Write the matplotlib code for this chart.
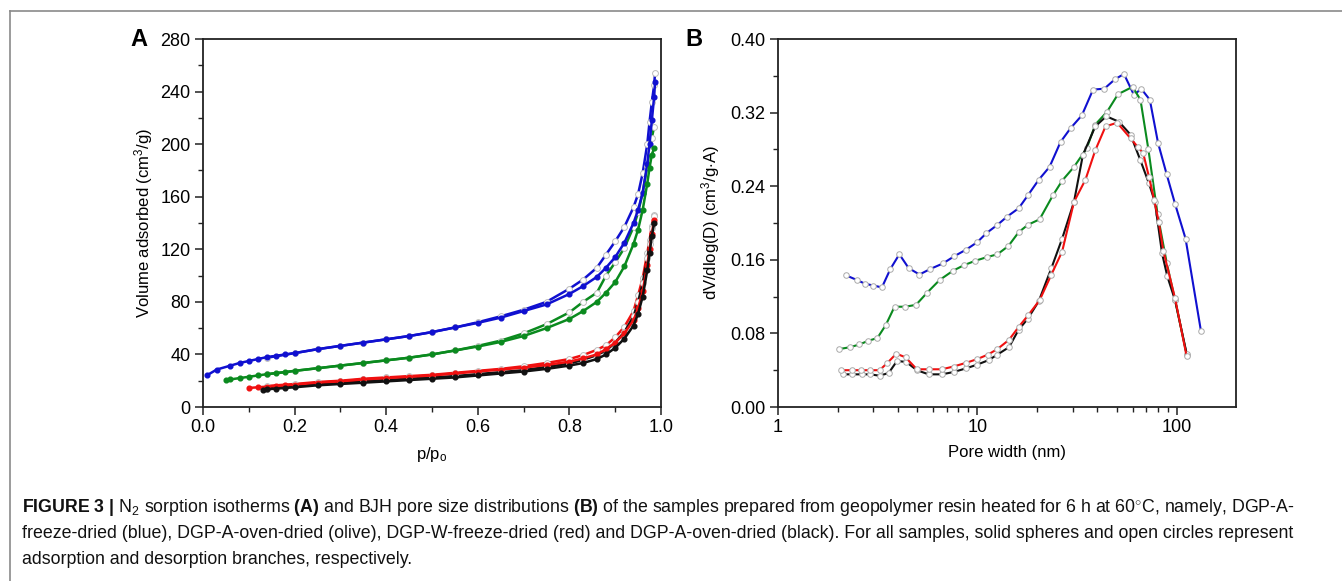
import matplotlib
matplotlib.use("Agg")
import matplotlib.pyplot as plt
from matplotlib.lines import Line2D
from matplotlib.ticker import MultipleLocator, LogLocator, NullFormatter, FixedLocator

plt.rcParams['font.family'] = ['Liberation Sans', 'DejaVu Sans']
plt.rcParams['mathtext.fontset'] = 'custom'
plt.rcParams['mathtext.rm'] = 'Liberation Sans'
plt.rcParams['mathtext.it'] = 'Liberation Sans:italic'
plt.rcParams['mathtext.bf'] = 'Liberation Sans:bold'

# ---------- panel A : isotherms ----------
blue_ads_p = [0.008, 0.03, 0.06, 0.08, 0.10, 0.12, 0.14, 0.16, 0.18, 0.20, 0.25, 0.30, 0.35, 0.40, 0.45, 0.50,
              0.55, 0.60, 0.65, 0.70, 0.75, 0.80, 0.83, 0.86, 0.88, 0.90, 0.92, 0.94, 0.95, 0.96, 0.97, 0.975,
              0.98, 0.985, 0.987]
blue_ads_v = [24, 28.5, 31.5, 33.5, 35, 36.5, 38, 39, 40, 41, 44, 46.5, 49, 51.5, 54, 57,
              60.5, 64, 68, 73, 78, 86, 92, 99, 106, 114, 125, 140, 150, 163, 185, 200,
              218, 236, 247]
blue_des_p = [0.987, 0.985, 0.98, 0.975, 0.97, 0.96, 0.95, 0.94, 0.92, 0.90, 0.88, 0.86, 0.83, 0.80, 0.75,
              0.70, 0.65, 0.60, 0.55, 0.50, 0.45, 0.40, 0.35, 0.30, 0.25, 0.20, 0.14]
blue_des_v = [254, 245, 232, 217, 200, 178, 162, 152, 137, 126, 116, 106, 97, 90, 80,
              74, 69, 64.5, 60.5, 57, 54, 51.5, 49, 46.5, 44, 41, 37.5]

green_ads_p = [0.05, 0.06, 0.08, 0.10, 0.12, 0.14, 0.16, 0.18, 0.20, 0.25, 0.30, 0.35, 0.40, 0.45, 0.50,
               0.55, 0.60, 0.65, 0.70, 0.75, 0.80, 0.83, 0.86, 0.88, 0.90, 0.92, 0.94, 0.95, 0.96, 0.97,
               0.975, 0.98, 0.985]
green_ads_v = [20.5, 21, 22, 23, 24, 25, 25.8, 26.5, 27.5, 29.5, 31.5, 33.5, 35.5, 37.5, 40,
               43, 46, 49.5, 54, 60, 67, 73, 80, 87, 95, 107, 124, 135, 150, 170,
               182, 192, 197]
green_des_p = [0.985, 0.98, 0.975, 0.97, 0.96, 0.95, 0.94, 0.92, 0.90, 0.88, 0.86, 0.83, 0.80, 0.75, 0.70,
               0.65, 0.60, 0.55, 0.50, 0.45, 0.40, 0.35, 0.30, 0.25, 0.20, 0.14]
green_des_v = [213, 205, 195, 183, 163, 148, 137, 121, 110, 100, 87, 80, 72, 63, 56,
               50.5, 46.5, 43, 40, 37.5, 35.5, 33.5, 31.5, 29.5, 27.5, 25]

red_ads_p = [0.10, 0.12, 0.14, 0.16, 0.18, 0.20, 0.25, 0.30, 0.35, 0.40, 0.45, 0.50, 0.55, 0.60, 0.65,
             0.70, 0.75, 0.80, 0.83, 0.86, 0.88, 0.90, 0.92, 0.94, 0.95, 0.96, 0.97, 0.975, 0.98, 0.985]
red_ads_v = [14.5, 15, 15.5, 16, 16.5, 17, 18.5, 19.5, 21, 22, 23, 24, 25.5, 27, 28.5,
             30, 32, 34.5, 37, 40, 44, 49, 56, 66, 75, 88, 108, 120, 132, 142]
red_des_p = [0.985, 0.98, 0.975, 0.97, 0.96, 0.95, 0.94, 0.92, 0.90, 0.88, 0.86, 0.83, 0.80, 0.75, 0.70,
             0.65, 0.60, 0.55, 0.50, 0.45, 0.40, 0.35, 0.30, 0.25, 0.20, 0.14]
red_des_v = [146, 138, 127, 117, 98, 85, 73, 61, 53, 47, 43.5, 39.5, 36.5, 33.5, 31,
             29, 27.5, 26, 24.5, 23.5, 22.5, 21.5, 20, 19, 17.5, 16]

black_ads_p = [0.13, 0.14, 0.16, 0.18, 0.20, 0.25, 0.30, 0.35, 0.40, 0.45, 0.50, 0.55, 0.60, 0.65, 0.70,
               0.75, 0.80, 0.83, 0.86, 0.88, 0.90, 0.92, 0.94, 0.95, 0.96, 0.97, 0.975, 0.98, 0.985]
black_ads_v = [13, 13.5, 14, 14.5, 15, 16.5, 17.5, 18.5, 19.5, 20.5, 21.5, 22.5, 24, 25.5, 27,
               29, 31.5, 33.5, 36.5, 40, 45, 52, 62, 71, 84, 104, 117, 130, 140]
black_des_p = [0.985, 0.98, 0.975, 0.97, 0.96, 0.95, 0.94, 0.92, 0.90, 0.88, 0.86, 0.83, 0.80, 0.75, 0.70,
               0.65, 0.60, 0.55, 0.50, 0.45, 0.40, 0.35, 0.30, 0.25, 0.20, 0.14]
black_des_v = [145, 136, 124, 113, 94, 80, 69, 57, 49, 43, 39.5, 36, 33, 30.5, 28,
               26.5, 25, 23.5, 22.5, 21.5, 20.5, 19.5, 18.5, 17.5, 16, 14]

# ---------- panel B : BJH pore size distributions ----------
blue_w = [2.20, 2.49, 2.73, 3.01, 3.32, 3.66, 4.06, 4.52, 5.12, 5.8, 6.71, 7.67, 8.77, 9.96, 11.1, 12.6, 14.1,
          16.1, 17.9, 20.3, 23.0, 26.1, 29.3, 33.4, 38.0, 43.3, 48.8, 54.3, 61.0, 66.2, 73.2, 80.5, 88.9,
          97.9, 110.6, 132]
blue_d = [0.143, 0.138, 0.134, 0.132, 0.130, 0.150, 0.166, 0.151, 0.144, 0.150, 0.156, 0.164, 0.171, 0.179,
          0.189, 0.198, 0.207, 0.216, 0.230, 0.247, 0.261, 0.288, 0.303, 0.317, 0.345, 0.346, 0.356, 0.362,
          0.339, 0.346, 0.334, 0.287, 0.253, 0.221, 0.183, 0.083]

green_w = [2.03, 2.30, 2.56, 2.84, 3.15, 3.47, 3.84, 4.34, 4.92, 5.58, 6.46, 7.53, 8.53, 9.77, 11.2, 12.6, 14.3,
           16.1, 17.9, 20.5, 23.9, 26.6, 30.5, 35.3, 39.0, 44.7, 50.7, 60.0, 65.7, 72.0, 80.0, 89.1, 98.0,
           112.0]
green_d = [0.063, 0.065, 0.068, 0.072, 0.075, 0.089, 0.109, 0.109, 0.111, 0.124, 0.138, 0.148, 0.154, 0.159,
           0.163, 0.166, 0.175, 0.190, 0.198, 0.204, 0.230, 0.246, 0.261, 0.281, 0.307, 0.321, 0.340, 0.348,
           0.334, 0.280, 0.210, 0.156, 0.116, 0.057]

red_w = [2.07, 2.35, 2.62, 2.90, 3.23, 3.54, 3.92, 4.36, 4.97, 5.69, 6.63, 7.59, 8.77, 9.96, 11.3, 12.6, 14.4,
         16.1, 18.0, 20.5, 23.5, 26.6, 30.5, 34.8, 39.0, 43.9, 50.2, 58.6, 63.5, 67.8, 72.5, 77.0, 81.2,
         85.5, 98.0, 112.0]
red_d = [0.040, 0.040, 0.040, 0.040, 0.040, 0.048, 0.058, 0.054, 0.041, 0.041, 0.041, 0.044, 0.048, 0.052,
         0.057, 0.063, 0.073, 0.087, 0.100, 0.116, 0.144, 0.169, 0.223, 0.247, 0.279, 0.305, 0.309, 0.292,
         0.283, 0.276, 0.250, 0.225, 0.201, 0.170, 0.118, 0.055]

black_w = [2.11, 2.35, 2.65, 2.90, 3.23, 3.59, 3.95, 4.39, 4.97, 5.69, 6.63, 7.59, 8.77, 9.96, 11.4, 12.6, 14.4,
           16.1, 17.9, 20.3, 23.5, 26.6, 30.5, 33.8, 39.0, 44.3, 51.3, 58.6, 65.7, 72.5, 77.6, 84.3, 89.6,
           98.0, 112.0]
black_d = [0.0355, 0.0355, 0.0355, 0.0355, 0.034, 0.037, 0.050, 0.049, 0.040, 0.0355, 0.0355, 0.038, 0.042,
           0.046, 0.051, 0.057, 0.065, 0.084, 0.096, 0.115, 0.151, 0.183, 0.223, 0.274, 0.305, 0.316, 0.310,
           0.296, 0.268, 0.243, 0.223, 0.167, 0.142, 0.116, 0.058]

colors = {'blue': '#1010d0', 'green': '#0a8a1e', 'red': '#f01010', 'black': '#111111'}

fig = plt.figure(figsize=(13.42, 5.81), dpi=100)

# outer frame (top and left only)
fig.add_artist(Line2D([9.5 / 1342, 9.5 / 1342], [0, 1 - 10.5 / 581], color='#8a8a8a', lw=1.2,
                      transform=fig.transFigure))
fig.add_artist(Line2D([9.5 / 1342, 1], [1 - 10.5 / 581, 1 - 10.5 / 581], color='#8a8a8a', lw=1.2,
                      transform=fig.transFigure))

axA = fig.add_axes([203 / 1342, 1 - 407 / 581, 458 / 1342, 368 / 581])
axB = fig.add_axes([778 / 1342, 1 - 407 / 581, 458 / 1342, 368 / 581])

isotherms = [
    ('blue', blue_ads_p, blue_ads_v, blue_des_p, blue_des_v),
    ('green', green_ads_p, green_ads_v, green_des_p, green_des_v),
    ('red', red_ads_p, red_ads_v, red_des_p, red_des_v),
    ('black', black_ads_p, black_ads_v, black_des_p, black_des_v),
]
for name, ap, av, dp, dv in isotherms:
    c = colors[name]
    axA.plot(dp, dv, '-', color=c, lw=1.8, marker='o', ms=4.2, mfc='white', mec='#bbbbbb', mew=0.7, zorder=2)
    axA.plot(ap, av, '-', color=c, lw=1.8, marker='o', ms=3.4, mfc=c, mec=c, zorder=3)

axA.set_xlim(0, 1.0)
axA.set_ylim(0, 280)
axA.xaxis.set_major_locator(MultipleLocator(0.2))
axA.xaxis.set_minor_locator(MultipleLocator(0.1))
axA.yaxis.set_major_locator(MultipleLocator(40))
axA.yaxis.set_minor_locator(MultipleLocator(20))
axA.xaxis.set_major_formatter(plt.FuncFormatter(lambda v, pos: '%.1f' % v))
axA.set_xlabel('p/p$_\\mathrm{o}$', fontsize=12, labelpad=6)
axA.set_ylabel('Volume adsorbed (cm$^3$/g)', fontsize=12, labelpad=4)

psd = [('blue', blue_w, blue_d), ('green', green_w, green_d), ('black', black_w, black_d), ('red', red_w, red_d)]
for name, w, d in psd:
    c = colors[name]
    axB.plot(w, d, '-', color=c, lw=1.5, marker='o', ms=4, mfc='white', mec='#aaaaaa', mew=0.7)

axB.set_xscale('log')
axB.set_xlim(1, 198)
axB.set_ylim(0, 0.40)
axB.xaxis.set_major_locator(FixedLocator([1, 10, 100]))
axB.xaxis.set_major_formatter(plt.FuncFormatter(lambda v, pos: '%d' % v))
axB.xaxis.set_minor_locator(LogLocator(base=10, subs=range(2, 10)))
axB.xaxis.set_minor_formatter(NullFormatter())
axB.yaxis.set_major_locator(MultipleLocator(0.08))
axB.yaxis.set_minor_locator(MultipleLocator(0.04))
axB.yaxis.set_major_formatter(plt.FuncFormatter(lambda v, pos: '%.2f' % v))
axB.set_xlabel('Pore width (nm)', fontsize=12, labelpad=6)
axB.set_ylabel('dV/dlog(D) (cm$^3$/g$\\cdot$A)', fontsize=12, labelpad=6)

for ax in (axA, axB):
    for s in ax.spines.values():
        s.set_linewidth(1.3)
        s.set_color('#222222')
    ax.tick_params(which='both', direction='out', top=False, right=False, color='#222222')
    ax.tick_params(which='major', length=6, width=1.1, labelsize=13, pad=3)
    ax.tick_params(which='minor', length=3.5, width=1.0)

fig.text(130 / 1342, 1 - 39 / 581, 'A', fontsize=17, fontweight='bold', va='center', ha='left')
fig.text(685 / 1342, 1 - 40 / 581, 'B', fontsize=17, fontweight='bold', va='center', ha='left')

caption = [
    r'$\mathbf{FIGURE\ 3\ |}$ N$_2$ sorption isotherms $\mathbf{(A)}$ and BJH pore size distributions '
    r'$\mathbf{(B)}$ of the samples prepared from geopolymer resin heated for 6 h at 60$^{\circ}$C, namely, DGP-A-',
    'freeze-dried (blue), DGP-A-oven-dried (olive), DGP-W-freeze-dried (red) and DGP-A-oven-dried (black). '
    'For all samples, solid spheres and open circles represent',
    'adsorption and desorption branches, respectively.',
]
for i, line in enumerate(caption):
    fig.text(22 / 1342, 1 - (507 + 26.5 * i) / 581, line, fontsize=12.8, va='center', ha='left', color='#111111')

fig.savefig('out.png', dpi=100)
